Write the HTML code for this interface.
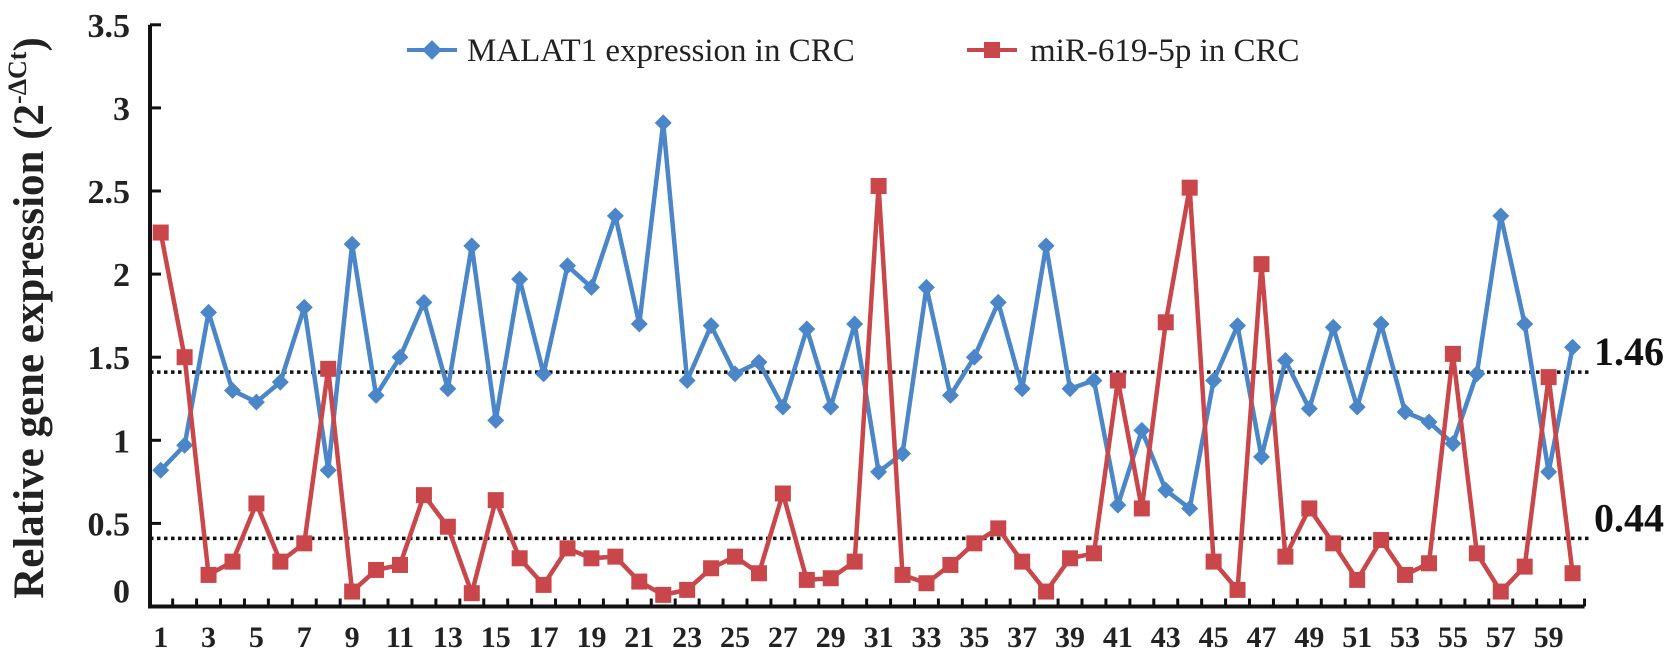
<!DOCTYPE html>
<html><head><meta charset="utf-8"><style>
html,body{margin:0;padding:0;background:#fff;}
svg{display:block;}
text{font-family:"Liberation Serif",serif;}
</style></head><body>
<svg id="chart" width="1677" height="660" viewBox="0 0 1677 660" xmlns="http://www.w3.org/2000/svg">
<g id="axes"></g>
<g id="refs"></g>
<g id="series"></g>
<text x="43" y="318" transform="rotate(-90 43 318)" text-anchor="middle" font-size="43" font-weight="bold" fill="#222">Relative gene expression (2<tspan dy="-17" font-size="26">-ΔCt</tspan><tspan dy="17">)</tspan></text>
<g>
<g>
<line x1="407" y1="50" x2="457" y2="50" stroke="#4a86c8" stroke-width="4"/>
<rect x="425" y="43" width="14" height="14" fill="#4a86c8" transform="rotate(45 432 50)"/>
<text x="467" y="61" font-size="33" fill="#222">MALAT1 expression in CRC</text>
</g>
<g>
<line x1="967" y1="50" x2="1017" y2="50" stroke="#c9474a" stroke-width="4"/>
<rect x="984" y="42" width="16" height="16" fill="#c9474a"/>
<text x="1030" y="61" font-size="33" fill="#222">miR-619-5p in CRC</text>
</g>
</g>
</svg>
<script>
const categories = Array.from({length:60},(_, i)=>String(i+1));
const malat1 = [0.82,0.97,1.77,1.30,1.23,1.35,1.80,0.82,2.18,1.27,1.50,1.83,1.31,2.17,1.12,1.97,1.40,2.05,1.92,2.35,1.70,2.91,1.36,1.69,1.40,1.47,1.20,1.67,1.20,1.70,0.81,0.92,1.92,1.27,1.50,1.83,1.31,2.17,1.31,1.36,0.61,1.06,0.70,0.59,1.36,1.69,0.90,1.48,1.19,1.68,1.20,1.70,1.17,1.11,0.98,1.40,2.35,1.70,0.81,1.56];
const mir619 = [2.25,1.50,0.19,0.27,0.62,0.27,0.38,1.43,0.09,0.22,0.25,0.67,0.48,0.08,0.64,0.29,0.13,0.35,0.29,0.30,0.15,0.07,0.10,0.23,0.30,0.20,0.68,0.16,0.17,0.27,2.53,0.19,0.14,0.25,0.38,0.47,0.27,0.09,0.29,0.32,1.36,0.59,1.71,2.52,0.27,0.10,2.06,0.30,0.59,0.38,0.16,0.40,0.19,0.26,1.52,0.32,0.09,0.24,1.38,0.20];
const yTicks = [0,0.5,1,1.5,2,2.5,3,3.5];
const yTickLabels = ["0","0.5","1","1.5","2","2.5","3","3.5"];
const refValues = [1.41,0.41];
const refLabels = ["1.46","0.44"];

const NS="http://www.w3.org/2000/svg";
const X0=150, Y0=606.5, PX=166.2, STEP=23.93, FIRST=160.7;
const xs=i=>FIRST+i*STEP;
const ys=v=>Y0-v*PX;
function mk(tag,attrs,parent){const e=document.createElementNS(NS,tag);for(const k in attrs)e.setAttribute(k,attrs[k]);parent.appendChild(e);return e;}
const axes=document.getElementById('axes'), refs=document.getElementById('refs'), series=document.getElementById('series');
let e;
e=mk('line',{x1:X0,y1:ys(3.5),x2:X0,y2:Y0+2,stroke:'#111','stroke-width':4},axes);


e=mk('line',{x1:X0-2,y1:Y0,x2:xs(59)+STEP/2,y2:Y0,stroke:'#111','stroke-width':4},axes);


yTicks.forEach((v,i)=>{
  let t=mk('line',{x1:X0,y1:ys(v),x2:X0+11,y2:ys(v),stroke:'#111','stroke-width':3},axes);
  
  
  let l=mk('text',{x:130,y:(v===0?ys(v)-4:ys(v)+12),'text-anchor':'end','font-size':34,'font-weight':'bold',fill:'#222'},axes);
  l.textContent=yTickLabels[i];
  
  
});
categories.forEach((c,i)=>{
  let tx=xs(i)+STEP/2;
  let t=mk('line',{x1:tx,y1:Y0,x2:tx,y2:Y0-8,stroke:'#111','stroke-width':3},axes);
  
  
  if(i%2===0){
    let l=mk('text',{x:xs(i),y:647,'text-anchor':'middle','font-size':30,'font-weight':'bold',fill:'#222'},axes);
    l.textContent=c;
    
    
  }
});
refValues.forEach((v,i)=>{
  let l=mk('line',{x1:X0,y1:ys(v),x2:1590,y2:ys(v),stroke:'#111','stroke-width':3.5,'stroke-dasharray':'3.5 3.5'},refs);
  
  
  let t=mk('text',{x:1594,y:ys(v)-7,'font-size':40,'font-weight':'bold',fill:'#111'},refs);
  t.textContent=refLabels[i];
  
  
});
function draw(vals,color,shape,name){
  const g=mk('g',{},series);
  
  
  const p=mk('polyline',{points:vals.map((v,i)=>xs(i)+','+ys(v)).join(' '),fill:'none',stroke:color,'stroke-width':4.5,'stroke-linejoin':'round'},g);
  
  
  vals.forEach((v,i)=>{
    let m;
    if(shape==='diamond'){
      m=mk('rect',{x:xs(i)-6,y:ys(v)-6,width:12,height:12,fill:color,transform:'rotate(45 '+xs(i)+' '+ys(v)+')'},g);
    } else {
      m=mk('rect',{x:xs(i)-8,y:ys(v)-8,width:16,height:16,fill:color},g);
    }
    
    
  });
}
draw(malat1,'#4a86c8','diamond','malat1');
draw(mir619,'#c9474a','square','mir619');
</script>
</body></html>
